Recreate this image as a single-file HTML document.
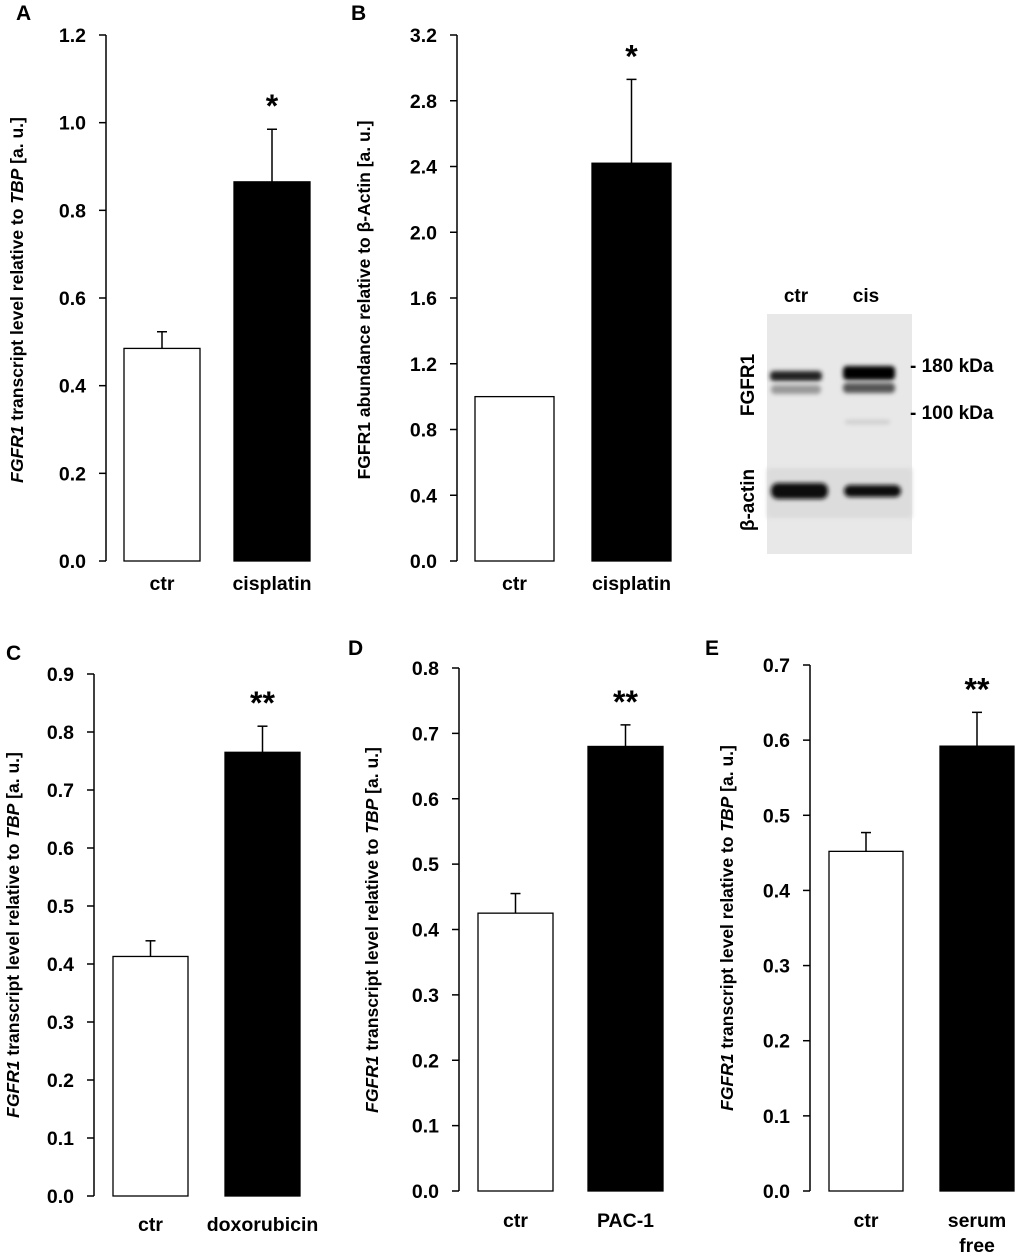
<!DOCTYPE html>
<html><head><meta charset="utf-8"><style>
body{margin:0;background:#fff}
svg{display:block;font-family:"Liberation Sans",Arial,sans-serif;font-weight:bold}
</style></head><body>
<svg id="fig" width="1020" height="1258" viewBox="0 0 1020 1258">
<defs><filter id="blur"><feGaussianBlur stdDeviation="2.2"/></filter></defs>
<g id="blot">
<rect x="767" y="314" width="145" height="240" fill="#e8e8e8"/>
<rect x="767" y="468" width="145" height="50" fill="#dcdcdc" filter="url(#blur)"/>
<g filter="url(#blur)">
<rect x="770" y="371" width="52" height="10" rx="4" fill="#222"/>
<rect x="771" y="385" width="50" height="9" rx="4" fill="#999"/>
<rect x="843" y="366" width="52" height="14" rx="4" fill="#000"/>
<rect x="843" y="383" width="52" height="10" rx="4" fill="#555"/>
<rect x="845" y="420" width="45" height="4" rx="2" fill="#ccc"/>
<rect x="771" y="483" width="57" height="16" rx="7" fill="#111"/>
<rect x="844" y="485" width="57" height="12" rx="6" fill="#111"/>
</g>
<text x="796" y="302" font-size="19" text-anchor="middle">ctr</text>
<text x="866" y="302" font-size="19" text-anchor="middle">cis</text>
<text x="910" y="372" font-size="19">- 180 kDa</text>
<text x="910" y="419" font-size="19">- 100 kDa</text>
<text transform="translate(754,385) rotate(-90)" font-size="19" text-anchor="middle">FGFR1</text>
<text transform="translate(754,500) rotate(-90)" font-size="19" text-anchor="middle">β-actin</text>
</g>
</svg>
<script>
// Data arrays
const panelLetters = ["A","B","C","D","E"];
const catA = ["ctr","cisplatin"], valA = [0.485,0.865], errA = [0.523,0.985], ticksA = ["0.0","0.2","0.4","0.6","0.8","1.0","1.2"];
const catB = ["ctr","cisplatin"], valB = [1.0,2.42], errB = [1.0,2.93], ticksB = ["0.0","0.4","0.8","1.2","1.6","2.0","2.4","2.8","3.2"];
const catC = ["ctr","doxorubicin"], valC = [0.413,0.765], errC = [0.44,0.81], ticksC = ["0.0","0.1","0.2","0.3","0.4","0.5","0.6","0.7","0.8","0.9"];
const catD = ["ctr","PAC-1"], valD = [0.425,0.68], errD = [0.455,0.713], ticksD = ["0.0","0.1","0.2","0.3","0.4","0.5","0.6","0.7","0.8"];
const catE = ["ctr","serum free"], valE = [0.452,0.592], errE = [0.477,0.637], ticksE = ["0.0","0.1","0.2","0.3","0.4","0.5","0.6","0.7"];
const sigs = ["*","*","**","**","**"];

const NS="http://www.w3.org/2000/svg", svg=document.getElementById('fig');
function el(t,a,p){const e=document.createElementNS(NS,t);for(const k in a)e.setAttribute(k,a[k]);(p||svg).appendChild(e);return e;}
const layouts=[
 {ax:106,top:35,bot:561,b0:124,b1:234,bw:76,lx:16,ly:20,ty:300,tx:23,lab:590,title:1},
 {ax:457,top:35,bot:561,b0:475,b1:592,bw:79,lx:351,ly:20,ty:300,tx:370,lab:590,title:2},
 {ax:94,top:674,bot:1196,b0:113,b1:225,bw:75,lx:6,ly:660,ty:935,tx:19,lab:1231,title:1},
 {ax:459,top:668,bot:1191,b0:478,b1:588,bw:75,lx:348,ly:655,ty:930,tx:378,lab:1227,title:1},
 {ax:810,top:665,bot:1191,b0:829,b1:940,bw:74,lx:705,ly:655,ty:928,tx:733,lab:1227,title:1}];
const cats=[catA,catB,catC,catD,catE], vals=[valA,valB,valC,valD,valE], errs=[errA,errB,errC,errD,errE], ticks=[ticksA,ticksB,ticksC,ticksD,ticksE];
layouts.forEach((L,i)=>{
 const g=el('g',{});
 
 
 const tk=ticks[i], max=parseFloat(tk[tk.length-1]);
 const y=v=>L.bot-(v/max)*(L.bot-L.top);
 const lt=el('text',{x:L.lx,y:L.ly,'font-size':21},g);lt.textContent=panelLetters[i];
 
 
 el('line',{x1:L.ax,y1:L.top,x2:L.ax,y2:L.bot,stroke:'#000','stroke-width':1.5},g);
 tk.forEach(t=>{const yy=y(parseFloat(t));
  el('line',{x1:L.ax-7,y1:yy,x2:L.ax,y2:yy,stroke:'#000','stroke-width':1.5},g);
  const tt=el('text',{x:L.ax-20,y:yy+7,'font-size':19.5,'text-anchor':'end'},g);tt.textContent=t;
  
  });
 [L.b0,L.b1].forEach((bx,j)=>{
  const v=vals[i][j], e=errs[i][j], cx=bx+L.bw/2;
  if(e>v) el('line',{x1:cx,y1:y(e),x2:cx,y2:y(v),stroke:'#000','stroke-width':1.5},g);
  if(e>v) el('line',{x1:cx-5,y1:y(e),x2:cx+5,y2:y(e),stroke:'#000','stroke-width':1.5},g);
  const r=el('rect',{x:bx,y:y(v),width:L.bw,height:L.bot-y(v),fill:j?'#000':'#fff',stroke:'#000','stroke-width':1.3},g);
  
  
  const words=cats[i][j]==='serum free'?['serum','free']:[cats[i][j]];
  words.forEach((w,k)=>{const t=el('text',{x:cx,y:L.lab+k*25,'font-size':19.5,'text-anchor':'middle'},g);t.textContent=w;
   
   });
  if(j==1){const s=el('text',{x:cx,y:y(e)-12,'font-size':32,'text-anchor':'middle'},g);s.textContent=sigs[i];
   
   }
 });
 const t=el('text',{transform:`translate(${L.tx},${L.ty}) rotate(-90)`,'font-size':17.5,'text-anchor':'middle'},g);
 
 
 if(L.title==2){t.textContent='FGFR1 abundance relative to β-Actin [a. u.]';}
 else{t.innerHTML='<tspan font-style="italic">FGFR1</tspan> transcript level relative to <tspan font-style="italic">TBP</tspan> [a. u.]';}
});
</script>
</body></html>
